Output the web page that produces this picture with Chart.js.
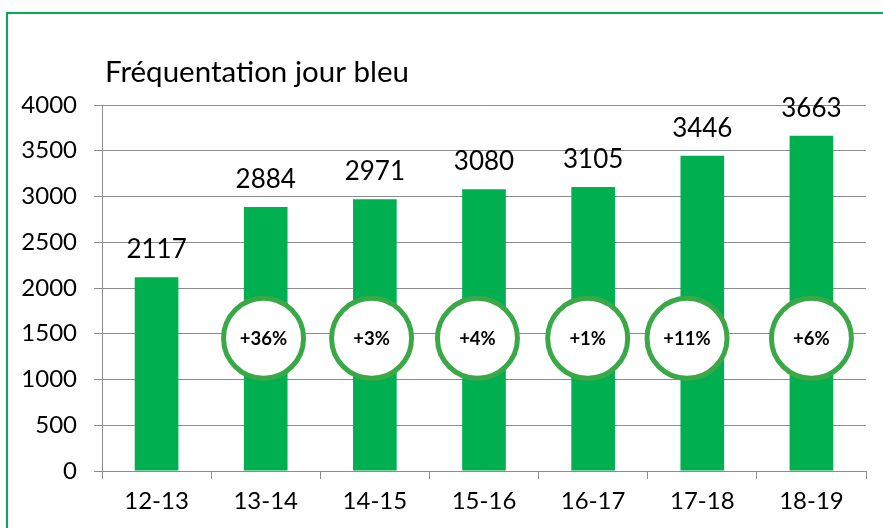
<!DOCTYPE html>
<html>
<head>
<meta charset="utf-8">
<script src="https://cdn.jsdelivr.net/npm/chart.js@4.4.1/dist/chart.umd.min.js"></script>
<style>
html,body{margin:0;padding:0;background:#fff;}
canvas{display:block;}
</style>
</head>
<body>
<canvas id="c" width="883" height="528"></canvas>
<script>
const titleText = "Fréquentation jour bleu";
const categories = ["12-13","13-14","14-15","15-16","16-17","17-18","18-19"];
const visitors = [2117, 2884, 2971, 3080, 3105, 3446, 3663];
const growthLabels = ["", "+36%", "+3%", "+4%", "+1%", "+11%", "+6%"];
const yTicks = [0, 500, 1000, 1500, 2000, 2500, 3000, 3500, 4000];

// style-only settings
const FONT = "Lato, 'Open Sans', sans-serif";
const BAR_GREEN = "#00B050";
const RING_GREEN = "#3BA848";
const GRID = "#8c8c8c";
const circleValue = 1450;           // vertical level of the growth badges (in data units)
const circleShift = [0, -0.02, -0.03, -0.06, -0.05, -0.14, 0]; // badge offset in category units

const frame = {
  id: 'frame',
  beforeDraw(chart) {
    const ctx = chart.ctx;
    ctx.save();
    ctx.fillStyle = '#fff';
    ctx.fillRect(0, 0, chart.width, chart.height);
    ctx.strokeStyle = BAR_GREEN;
    ctx.lineWidth = 2;
    ctx.strokeRect(7, 13, chart.width + 20, chart.height + 20);
    ctx.fillStyle = '#000';
    ctx.font = "29.5px " + FONT;
    ctx.textAlign = 'left';
    ctx.textBaseline = 'alphabetic';
    ctx.fillText(titleText, 105, 82);
    ctx.restore();
  }
};

const labelsAndBadges = {
  id: 'labelsAndBadges',
  afterDatasetsDraw(chart) {
    const ctx = chart.ctx;
    const meta = chart.getDatasetMeta(0);
    const xs = chart.scales.x, ys = chart.scales.y;
    ctx.save();
    ctx.fillStyle = '#000';
    ctx.font = "26px " + FONT;
    ctx.textAlign = 'center';
    ctx.textBaseline = 'alphabetic';
    meta.data.forEach((bar, i) => {
      ctx.fillText(String(visitors[i]), bar.x, bar.y - 19);
    });
    const cy = ys.getPixelForValue(circleValue);
    const step = xs.getPixelForValue(1) - xs.getPixelForValue(0);
    growthLabels.forEach((lab, i) => {
      if (!lab) return;
      const cx = xs.getPixelForValue(i) + circleShift[i] * step;
      ctx.beginPath();
      ctx.arc(cx, cy, 40, 0, Math.PI * 2);
      ctx.fillStyle = '#fff';
      ctx.fill();
      ctx.lineWidth = 5;
      ctx.strokeStyle = RING_GREEN;
      ctx.stroke();
      ctx.fillStyle = '#000';
      ctx.font = "bold 18.5px " + FONT;
      ctx.textBaseline = 'middle';
      ctx.fillText(lab, cx, cy + 1);
    });
    ctx.restore();
  }
};

new Chart(document.getElementById('c'), {
  type: 'bar',
  data: {
    labels: categories,
    datasets: [{
      data: visitors,
      backgroundColor: BAR_GREEN,
      borderWidth: 0,
      barPercentage: 0.4,
      categoryPercentage: 1.0
    }]
  },
  options: {
    responsive: false,
    animation: false,
    layout: { padding: { top: 105, right: 17, left: 0, bottom: 0 } },
    plugins: { legend: { display: false }, tooltip: { enabled: false }, title: { display: false } },
    scales: {
      x: {
        grid: { display: true, drawOnChartArea: false, drawTicks: true, tickLength: 8, color: GRID, offset: true },
        border: { display: true, color: GRID, width: 1 },
        ticks: { color: '#000', font: { family: FONT, size: 24 }, padding: 8, maxRotation: 0 },
        afterFit(s) { s.height = 57; }
      },
      y: {
        min: 0, max: 4000,
        afterBuildTicks(s) { s.ticks = yTicks.map(v => ({ value: v })); },
        grid: { color: GRID, lineWidth: 1, drawTicks: true, tickLength: 8 },
        border: { display: true, color: GRID, width: 1 },
        ticks: { color: '#000', font: { family: FONT, size: 24 }, padding: 17, callback: v => String(v) },
        afterFit(s) { s.width = 102; }
      }
    }
  },
  plugins: [frame, labelsAndBadges]
});
</script>
</body>
</html>
